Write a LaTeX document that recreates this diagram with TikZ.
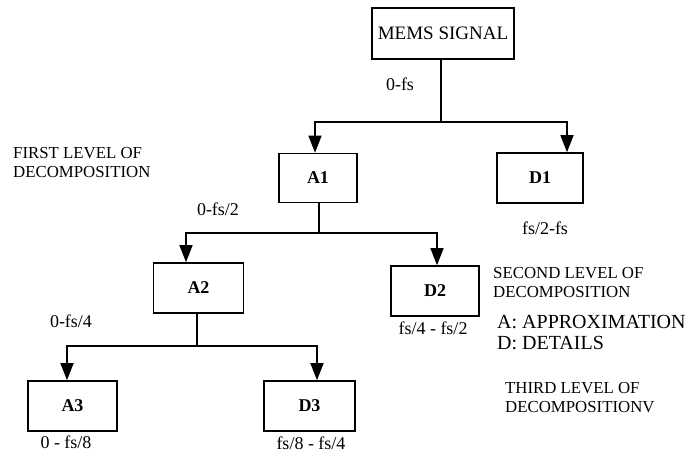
\documentclass[tikz,border=0pt]{standalone}
\usepackage{fontspec}
\setmainfont{Liberation Serif}
\usetikzlibrary{arrows.meta}
\begin{document}
\begin{tikzpicture}[x=1pt,y=-1pt,
  box/.style={draw,line width=1.6pt,inner sep=0pt},
  conn/.style={line width=1.4pt},
  arr/.style={line width=1.4pt,-{Triangle[length=17pt,width=13pt]}},
  lab/.style={font=\fontsize{18}{20}\selectfont,inner sep=0pt},
  side/.style={font=\fontsize{16.8}{19.5}\selectfont,inner sep=0pt,align=left,anchor=north west},
  bx/.style={font=\fontsize{18}{20}\selectfont\bfseries}]
\useasboundingbox (0,0) rectangle (694,457);
% boxes
\node[box,minimum width=142pt,minimum height=51pt,font=\fontsize{19}{21}\selectfont] (mems) at (443,33.5) {MEMS SIGNAL};
\node[box,bx,minimum width=78pt,minimum height=49pt] (a1) at (318,178) {A1};
\node[box,bx,minimum width=86pt,minimum height=50pt] (d1) at (540,178) {D1};
\node[box,bx,minimum width=90pt,minimum height=50pt] (a2) at (198.5,288) {A2};
\node[box,bx,minimum width=88pt,minimum height=50pt] (d2) at (435,291) {D2};
\node[box,bx,minimum width=89pt,minimum height=50pt] (a3) at (72.5,406) {A3};
\node[box,bx,minimum width=91pt,minimum height=50pt] (d3) at (309.5,406) {D3};
% junction coordinates
\coordinate (j0) at (441,122);
\coordinate (j0l) at (315,122);
\coordinate (j0r) at (567,122);
\coordinate (j1) at (319,233);
\coordinate (j1l) at (186,233);
\coordinate (j1r) at (437,233);
\coordinate (j2) at (197,346);
\coordinate (j2l) at (67,346);
\coordinate (j2r) at (317,346);
% connectors
\draw[conn] (mems.south -| j0) -- (j0);
\draw[arr] (j0) -- (j0l) -- (a1.north -| j0l);
\draw[arr] (j0) -- (j0r) -- (d1.north -| j0r);
\draw[conn] (a1.south -| j1) -- (j1);
\draw[arr] (j1) -- (j1l) -- (a2.north -| j1l);
\draw[arr] (j1) -- (j1r) -- (d2.north -| j1r);
\draw[conn] (a2.south -| j2) -- (j2);
\draw[arr] (j2) -- (j2l) -- (a3.north -| j2l);
\draw[arr] (j2) -- (j2r) -- (d3.north -| j2r);
% band labels
\node[lab] (l0) at (400,84) {0-fs};
\node[lab] (l1) at (218,209) {0-fs/2};
\node[lab] (l2) at (545,228) {fs/2-fs};
\node[lab] (l3) at (71,321) {0-fs/4};
\node[lab] (l4) at (433,328) {fs/4 - fs/2};
\node[lab] (l5) at (66,442) {0 - fs/8};
\node[lab] (l6) at (311,443) {fs/8 - fs/4};
% side texts
\node[side] (t1) at (13,147) {FIRST LEVEL OF\\DECOMPOSITION};
\node[side] (t2) at (493,267) {SECOND LEVEL OF\\DECOMPOSITION};
\node[side,font=\fontsize{20}{21.5}\selectfont] (t3) at (497,315) {A: APPROXIMATION\\D: DETAILS};
\node[side] (t4) at (505,382) {THIRD LEVEL OF\\DECOMPOSITIONV};
\end{tikzpicture}
\end{document}
